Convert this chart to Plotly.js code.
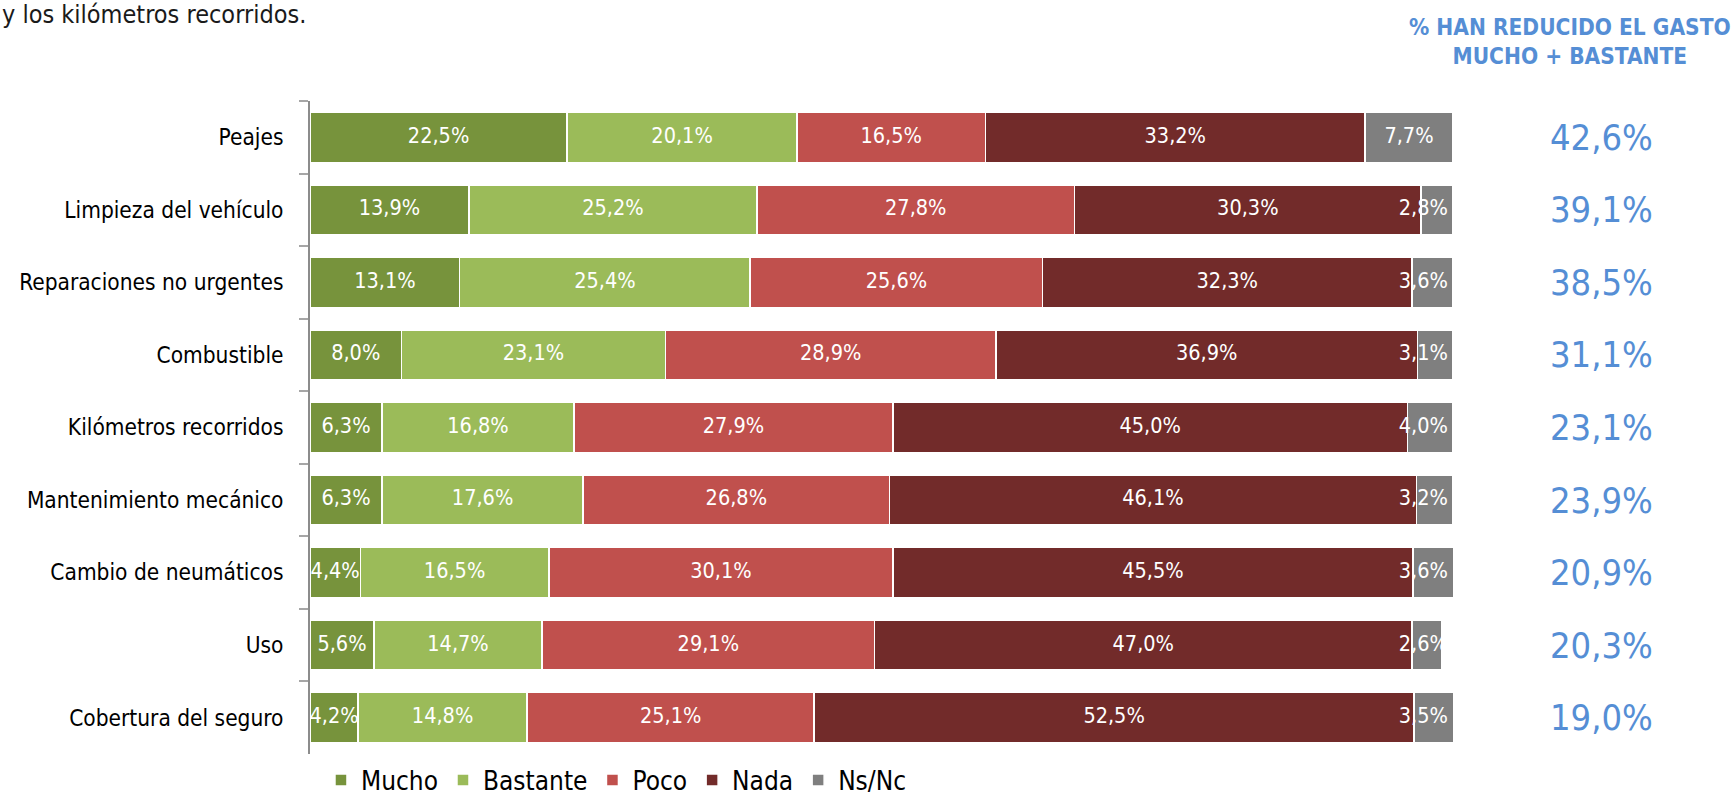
<!DOCTYPE html>
<html>
<head>
<meta charset="utf-8">
<script src="https://cdn.plot.ly/plotly-3.0.1.min.js"></script>
<style>
html,body{margin:0;padding:0;background:#fff;}
#chart{width:1735px;height:795px;}
</style>
</head>
<body>
<div id="chart"></div>
<script>
var categories = ["Peajes","Limpieza del vehículo","Reparaciones no urgentes","Combustible","Kilómetros recorridos","Mantenimiento mecánico","Cambio de neumáticos","Uso","Cobertura del seguro"];
var mucho    = [22.5,13.9,13.1,8.0,6.3,6.3,4.4,5.6,4.2];
var bastante = [20.1,25.2,25.4,23.1,16.8,17.6,16.5,14.7,14.8];
var poco     = [16.5,27.8,25.6,28.9,27.9,26.8,30.1,29.1,25.1];
var nada     = [33.2,30.3,32.3,36.9,45.0,46.1,45.5,47.0,52.5];
var nsnc     = [7.7,2.8,3.6,3.1,4.0,3.2,3.6,2.6,3.5];
var reducido = [42.6,39.1,38.5,31.1,23.1,23.9,20.9,20.3,19.0];
var seriesNames = ["Mucho","Bastante","Poco","Nada","Ns/Nc"];
var seriesValues = [mucho,bastante,poco,nada,nsnc];
var seriesColors = ["#77933C","#9BBB59","#C0504D","#722B2A","#7F7F7F"];
var headerText = "% HAN REDUCIDO EL GASTO<br>MUCHO + BASTANTE";
var topText = "y los kilómetros recorridos.";

var FONT = "'DejaVu Sans Condensed','Liberation Sans Narrow',sans-serif";
var XMAX = 100;          // axis maximum
var LABEL_HALF = 2.6;    // half label box, in axis units (keeps labels inside the plot, as the original does)
function fmt(v){ return v.toFixed(1).replace('.',',') + '%'; }

var traces = [];
seriesNames.forEach(function(name,i){
  traces.push({
    type:'bar', orientation:'h', name:name,
    y:categories, x:seriesValues[i],
    textposition:'none',
    marker:{color:seriesColors[i], line:{color:'#ffffff',width:1.5}},
    hoverinfo:'none'
  });
});
// segment labels centred on each stacked segment
var cum = categories.map(function(){return 0;});
seriesNames.forEach(function(name,i){
  var mids = seriesValues[i].map(function(v,k){
    var m = cum[k] + v/2; cum[k] += v;
    return Math.min(m, XMAX - LABEL_HALF);
  });
  traces.push({
    type:'scatter', mode:'text', x:mids, y:categories,
    text:seriesValues[i].map(fmt), textposition:'middle center',
    textfont:{family:FONT,size:21.5,color:'#ffffff'},
    showlegend:false, hoverinfo:'none', cliponaxis:false
  });
});

var annotations = categories.map(function(c,i){
  return {xref:'paper', yref:'y', x:1.1295, y:c, text:fmt(reducido[i]), showarrow:false,
    xanchor:'center', yanchor:'middle', font:{family:FONT,size:36,color:'#558ED5'}};
});
annotations.push({xref:'paper', yref:'paper', x:1.1024, y:1.0907, text:headerText, showarrow:false,
  xanchor:'center', yanchor:'middle', font:{family:FONT,size:22.5,color:'#558ED5',weight:'bold'}});
annotations.push({xref:'paper', yref:'paper', x:-0.271, y:1.1317, text:topText, showarrow:false,
  xanchor:'left', yanchor:'middle', font:{family:FONT,size:25,color:'#1a1a1a'}});

var layout = {
  width:1735, height:795,
  margin:{l:310, r:282, t:101, b:41, pad:0, autoexpand:false},
  paper_bgcolor:'#ffffff', plot_bgcolor:'#ffffff',
  barmode:'stack', bargap:0.31,
  showlegend:true,
  legend:{orientation:'h', x:0.0096, xanchor:'left', y:-0.04, yanchor:'middle', itemgap:26,
    font:{family:FONT,size:26,color:'#000000'}, traceorder:'normal'},
  xaxis:{range:[0,XMAX], showgrid:false, zeroline:false, showticklabels:false, showline:false, fixedrange:true},
  yaxis:{type:'category', autorange:'reversed', showgrid:false, zeroline:false,
    showline:true, linecolor:'#8C8C8C', linewidth:2,
    ticks:'outside', tickson:'boundaries', ticklen:9, tickcolor:'#A6A6A6', tickwidth:2,
    ticklabelstandoff:20,
    tickfont:{family:FONT,size:22.5,color:'#000000'}},
  annotations:annotations,
  font:{family:FONT}
};

Plotly.newPlot('chart', traces, layout, {displayModeBar:false, staticPlot:true});
</script>
</body>
</html>
